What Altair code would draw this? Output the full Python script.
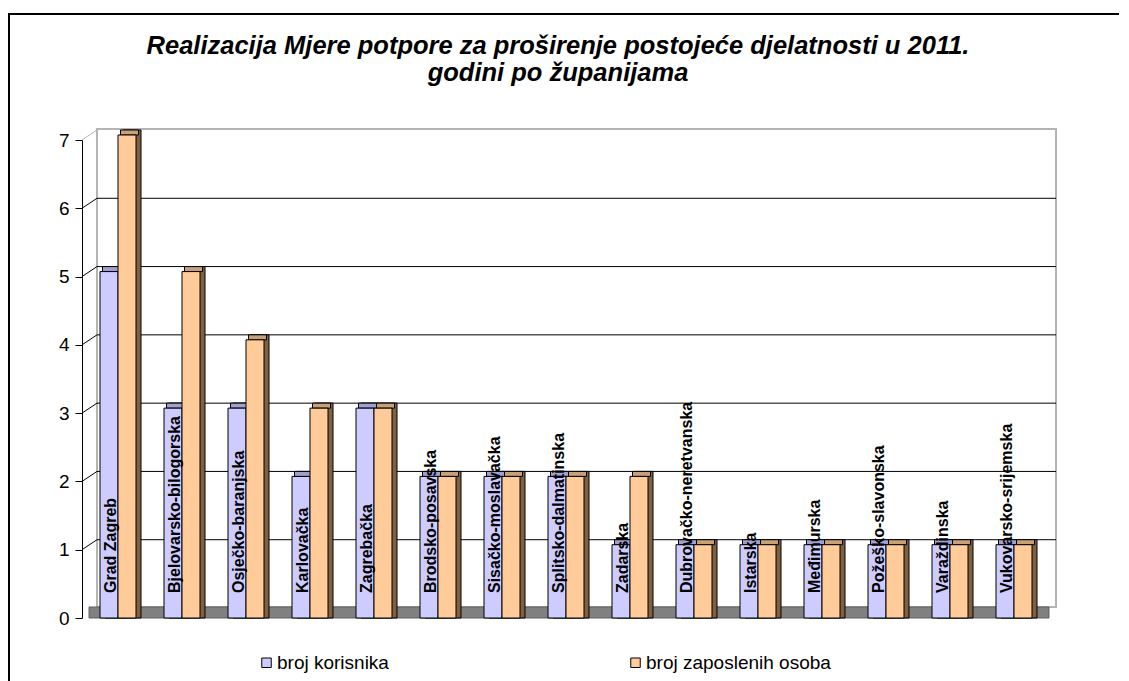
import altair as alt
import pandas as pd

# ---------------- data ----------------
counties = [
    "Grad Zagreb", "Bjelovarsko-bilogorska", "Osječko-baranjska", "Karlovačka",
    "Zagrebačka", "Brodsko-posavska", "Sisačko-moslavačka", "Splitsko-dalmatinska",
    "Zadarska", "Dubrovačko-neretvanska", "Istarska", "Međimurska",
    "Požeško-slavonska", "Varaždinska", "Vukovarsko-srijemska",
]
broj_korisnika = [5, 3, 3, 2, 3, 2, 2, 2, 1, 1, 1, 1, 1, 1, 1]
broj_zaposlenih = [7, 5, 4, 3, 3, 2, 2, 2, 2, 1, 1, 1, 1, 1, 1]
series_names = ["broj korisnika", "broj zaposlenih osoba"]
y_ticks = [0, 1, 2, 3, 4, 5, 6, 7]
title_text = ("Realizacija Mjere potpore za proširenje postojeće djelatnosti u 2011.\n"
              "godini po županijama")

# ---------------- styles ----------------
FONT = "Liberation Sans"
BLUE, ORANGE = "#CCCCFF", "#FFCC99"
BLUE_SIDE, ORANGE_SIDE = "#666699", "#7F6040"
BLUE_TOP, ORANGE_TOP = "#A0A0D0", "#C8A078"
W, H = 960, 478
BAR = 18

df_k = pd.DataFrame({"county": counties, "value": broj_korisnika, "series": series_names[0]})
df_z = pd.DataFrame({"county": counties, "value": broj_zaposlenih, "series": series_names[1]})
df_lab = pd.DataFrame({"county": counties})
df_ticks = pd.DataFrame({"tick": y_ticks})
df_title = pd.DataFrame({"t": [title_text]})
one = pd.DataFrame({"k": [0]})

x_enc = alt.X("county:N", sort=counties,
              scale=alt.Scale(paddingInner=0, paddingOuter=0), axis=None)
y_scale = alt.Scale(domain=[0, 7], nice=False, zero=True)
y_axis = alt.Axis(values=y_ticks, title=None, grid=False, format="d",
                  domainColor="black", tickColor="black", tickSize=7,
                  labelFont=FONT, labelFontSize=19, labelColor="black",
                  labelPadding=6)

color_enc = alt.Color(
    "series:N",
    scale=alt.Scale(domain=series_names, range=[BLUE, ORANGE]),
    legend=alt.Legend(
        title=None, orient="none", legendX=175, legendY=513,
        direction="horizontal", symbolType="square", symbolSize=90,
        symbolStrokeColor="black", symbolStrokeWidth=1, symbolOpacity=1,
        labelFont=FONT, labelFontSize=19, labelColor="black", labelLimit=400,
        labelOffset=1, columnPadding=237,
    ),
)

# outer frame (top and left edges; the rest lies outside the picture)
frame_top = alt.Chart(one).mark_rule(color="black", strokeWidth=2).encode(
    x=alt.value(-73), x2=alt.value(1037), y=alt.value(-126)
)
frame_left = alt.Chart(one).mark_rule(color="black", strokeWidth=2).encode(
    x=alt.value(-73), y=alt.value(-127), y2=alt.value(600)
)

# title
title = alt.Chart(df_title).mark_text(
    font=FONT, fontSize=25.5, fontWeight="bold", fontStyle="italic", color="black",
    align="center", baseline="alphabetic", lineBreak="\n", lineHeight=27,
).encode(x=alt.value(476), y=alt.value(-86), text="t:N")

# back wall
wall = alt.Chart(one).mark_rect(fill="white", stroke="#b4b4b4", strokeWidth=2).encode(
    x=alt.value(15), x2=alt.value(974), y=alt.value(-11), y2=alt.value(467)
)

# back gridlines
grid = alt.Chart(df_ticks).transform_filter(
    (alt.datum.tick > 0) & (alt.datum.tick < 7)
).mark_rule(yOffset=-10, color="black", strokeWidth=1).encode(
    x=alt.value(15), x2=alt.value(974),
    y=alt.Y("tick:Q", scale=y_scale, axis=y_axis),
)

# left wall diagonals
diag = alt.Chart(df_ticks).transform_filter(alt.datum.tick > 0).mark_rule(
    y2Offset=-10, strokeWidth=1
).encode(
    x=alt.value(0), x2=alt.value(15),
    y=alt.Y("tick:Q", scale=y_scale, axis=y_axis), y2=alt.Y2("tick:Q"),
    color=alt.condition(alt.datum.tick == 7, alt.value("#b4b4b4"), alt.value("black")),
)

# floor
floor = alt.Chart(one).mark_rect(fill="#808080", stroke="#606060", strokeWidth=1).encode(
    x=alt.value(7), x2=alt.value(967), y=alt.value(467), y2=alt.value(478)
)


def bar_layers(df, dx, side, top):
    base = alt.Chart(df)
    shadow = base.mark_bar(size=BAR, xOffset=dx + 5, yOffset=-10, y2Offset=-10,
                           color=side, stroke="black", strokeWidth=1).encode(
        x=x_enc, y=alt.Y("value:Q", scale=y_scale, stack=None, axis=y_axis))
    topface = base.mark_bar(size=BAR, xOffset=dx + 2.5, yOffset=-10, y2Offset=-5,
                            color=top, stroke="black", strokeWidth=1).encode(
        x=x_enc, y=alt.Y("value:Q", scale=y_scale, stack=None, axis=y_axis),
        y2=alt.Y2("value:Q"))
    front = base.mark_bar(size=BAR, xOffset=dx, yOffset=-5, y2Offset=-5,
                          stroke="black", strokeWidth=1, opacity=1).encode(
        x=x_enc, y=alt.Y("value:Q", scale=y_scale, stack=None, axis=y_axis),
        color=color_enc)
    return [shadow, topface, front]


labels = alt.Chart(df_lab).mark_text(
    angle=270, align="left", baseline="alphabetic", font=FONT, fontSize=16,
    fontWeight="bold", color="black", xOffset=2, yOffset=-25,
).encode(x=x_enc, y=alt.datum(0, scale=y_scale, axis=y_axis), text="county:N")

layers = [frame_top, frame_left, title, wall, grid, diag, floor]
layers += bar_layers(df_k, -5, BLUE_SIDE, BLUE_TOP)
layers += bar_layers(df_z, 13, ORANGE_SIDE, ORANGE_TOP)
layers += [labels]

chart = alt.layer(*layers).properties(
    width=W, height=H,
    padding={"left": 74, "top": 132, "right": 79, "bottom": 63},
    autosize=alt.AutoSizeParams(type="none"),
    background="white",
).configure_view(stroke=None)

chart.save("out.html", embed_options={"renderer": "svg", "actions": False})
